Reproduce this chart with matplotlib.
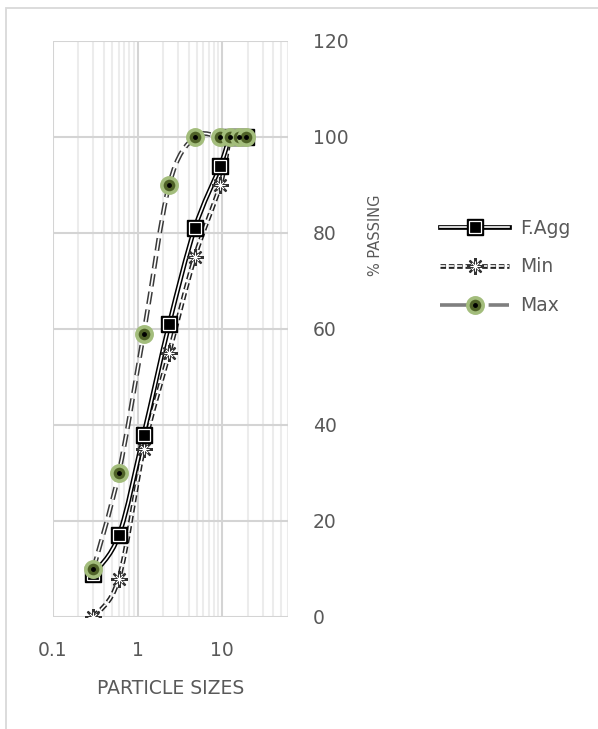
import matplotlib
matplotlib.use('Agg')
import matplotlib.pyplot as plt
import numpy as np
from matplotlib.path import Path
from matplotlib.patches import PathPatch, Rectangle
from matplotlib.lines import Line2D
from matplotlib.legend_handler import HandlerTuple
from matplotlib.ticker import FixedLocator, NullFormatter

plt.rcParams['font.family'] = ['DejaVu Sans']
plt.rcParams['lines.scale_dashes'] = False

# sieve sizes (mm) and % passing
sizes = [0.3, 0.6, 1.18, 2.36, 4.75, 9.5, 12.5, 16, 19]
f_agg = [9, 17, 38, 61, 81, 94, 100, 100, 100]
min_lim = [0, 8, 35, 55, 75, 90, 100, 100, 100]
max_lim = [10, 30, 59, 90, 100, 100, 100, 100, 100]

x_ticks = [0.1, 1, 10]
x_tick_labels = ['0.1', '1', '10']
y_ticks = [0, 20, 40, 60, 80, 100, 120]

TXT = '#595959'


def smooth_path(xs, ys):
    # Excel-like smoothed line: bezier through the points, in log-x space
    u = np.log10(xs)
    v = np.asarray(ys, dtype=float)
    n = len(u)
    verts = [(u[0], v[0])]
    codes = [Path.MOVETO]
    for i in range(n - 1):
        p0 = (u[max(i - 1, 0)], v[max(i - 1, 0)])
        p1 = (u[i], v[i])
        p2 = (u[i + 1], v[i + 1])
        p3 = (u[min(i + 2, n - 1)], v[min(i + 2, n - 1)])
        c1 = (p1[0] + (p2[0] - p0[0]) / 6, p1[1] + (p2[1] - p0[1]) / 6)
        c2 = (p2[0] - (p3[0] - p1[0]) / 6, p2[1] - (p3[1] - p1[1]) / 6)
        verts += [c1, c2, p2]
        codes += [Path.CURVE4] * 3
    verts = [(10 ** a, b) for a, b in verts]
    return Path(verts, codes)


def double_line(ax, xs, ys, color, dashes, z):
    ls = 'solid' if dashes is None else (0, dashes)
    ax.add_patch(PathPatch(smooth_path(xs, ys), fill=False, edgecolor=color,
                           lw=3.4, linestyle=ls, zorder=z, capstyle='butt'))
    ax.add_patch(PathPatch(smooth_path(xs, ys), fill=False, edgecolor='white',
                           lw=1.2, linestyle=ls, zorder=z + 0.1, capstyle='butt'))


fig = plt.figure(figsize=(5.98, 7.29), dpi=100)
ax = fig.add_axes([53 / 598, 1 - 617 / 729, 235 / 598, 576 / 729])

ax.set_xscale('log')
ax.set_xlim(0.1, 60)
ax.set_ylim(0, 120)

minor = [m * 10.0 ** e for e in (-1, 0) for m in range(2, 10)] + [20, 30, 40, 50, 60]
ax.xaxis.set_major_locator(FixedLocator(x_ticks))
ax.xaxis.set_minor_locator(FixedLocator(minor))
ax.xaxis.set_minor_formatter(NullFormatter())
ax.set_xticklabels(x_tick_labels)
ax.set_yticks(y_ticks)
ax.yaxis.tick_right()

ax.grid(True, which='major', color='#d4d4d4', lw=1.5)
ax.grid(True, which='minor', axis='x', color='#ececec', lw=1.5)
ax.set_axisbelow(True)
for s in ax.spines.values():
    s.set_visible(False)
ax.tick_params(which='both', length=0)
ax.tick_params(axis='y', pad=18, labelsize=13.5, labelcolor=TXT)
ax.tick_params(axis='x', pad=17, labelsize=13.5, labelcolor=TXT)

# lines
double_line(ax, sizes, max_lim, '#3a3a3a', (9, 4), 2)
double_line(ax, sizes, min_lim, '#222222', (5, 2.5), 2.3)
double_line(ax, sizes, f_agg, 'black', None, 2.6)

# markers
ax.plot(sizes, min_lim, ls='none', marker=(8, 2, 0), ms=12, mew=1.6,
        color='#333333', zorder=4)
ax.plot(sizes, min_lim, ls='none', marker=(8, 2, 0), ms=7, mew=0.6,
        color='white', zorder=4.1)
ax.plot(sizes, f_agg, ls='none', marker='s', ms=11, mfc='black', mec='black',
        mew=1, zorder=5)
ax.plot(sizes, f_agg, ls='none', marker='s', ms=9, mfc='black', mec='white',
        mew=0.9, zorder=5.1)
ax.plot(sizes, max_lim, ls='none', marker='o', ms=11, mfc='#4f6228',
        mec='#a3bd7c', mew=2.6, zorder=6)
ax.plot(sizes, max_lim, ls='none', marker='o', ms=2.5, mfc='black',
        mec='black', zorder=6.1)

# legend
h_f = (Line2D([], [], color='black', lw=3.4), Line2D([], [], color='white', lw=1.2),
       Line2D([], [], ls='none', marker='s', ms=11, mfc='black', mec='black'),
       Line2D([], [], ls='none', marker='s', ms=9, mfc='black', mec='white', mew=0.9))
h_min = (Line2D([], [], color='#222222', lw=3.4, dashes=(4, 2)),
         Line2D([], [], color='white', lw=1.2, dashes=(4, 2)),
         Line2D([], [], ls='none', marker=(8, 2, 0), ms=12, mew=1.6, color='#333333'),
         Line2D([], [], ls='none', marker=(8, 2, 0), ms=7, mew=0.6, color='white'))
h_max = (Line2D([], [], color='#7f7f7f', lw=2.6, dashes=(22, 4, 5, 4)),
         Line2D([], [], ls='none', marker='o', ms=11, mfc='#4f6228', mec='#a3bd7c', mew=2.6),
         Line2D([], [], ls='none', marker='o', ms=2.5, mfc='black', mec='black'))
leg = fig.legend([h_f, h_min, h_max], ['F.Agg', 'Min', 'Max'],
                 handler_map={tuple: HandlerTuple(ndivide=1)},
                 loc='center left', bbox_to_anchor=(440 / 598, 1 - 267 / 729),
                 frameon=False, borderpad=0, borderaxespad=0,
                 handlelength=3.7, handletextpad=0.55, labelspacing=1.05,
                 fontsize=13.5, labelcolor=TXT)

fig.text(375 / 598, 1 - 235 / 729, '% PASSING', rotation=90, ha='center',
         va='center', color=TXT, fontsize=10.5)
fig.text(171 / 598, 1 - 688 / 729, 'PARTICLE SIZES', ha='center', va='center',
         color=TXT, fontsize=13.5)

fig.patches.append(Rectangle((6 / 598, -0.1), 1.2, 1 - 8 / 729 + 0.1,
                             transform=fig.transFigure, fill=False,
                             edgecolor='#d9d9d9', lw=1.3))

fig.savefig('out.png', dpi=100)
